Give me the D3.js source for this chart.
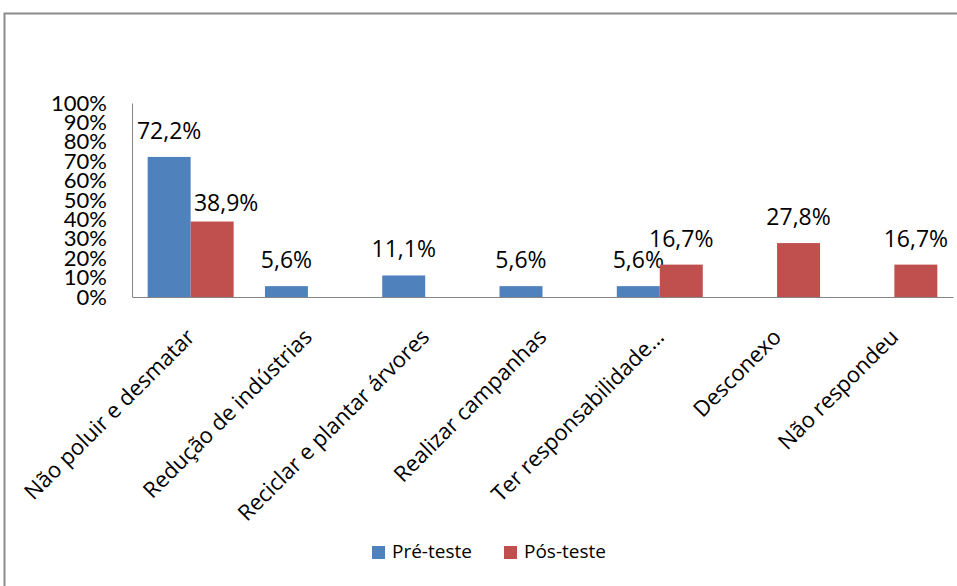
<!DOCTYPE html>
<html>
<head>
<meta charset="utf-8">
<script src="https://cdn.jsdelivr.net/npm/d3@7/dist/d3.min.js"></script>
<style>
  body { margin: 0; background: #fff; }
  text { font-family: "Open Sans", sans-serif; fill: #000; }
</style>
</head>
<body>
<div id="chart"></div>
<script>
var categories = ['Não poluir e desmatar', 'Redução de indústrias', 'Reciclar e plantar árvores',
  'Realizar campanhas', 'Ter responsabilidade…', 'Desconexo', 'Não respondeu'];
var series = ['Pré-teste', 'Pós-teste'];
var preTeste = [72.2, 5.6, 11.1, 5.6, 5.6, 0, 0];
var posTeste = [38.9, 0, 0, 0, 16.7, 27.8, 16.7];
var yTicks = [0, 10, 20, 30, 40, 50, 60, 70, 80, 90, 100];
var colors = ['#4F81BD', '#C0504D'];

var width = 957, height = 586;
var plotLeft = 132, plotRight = 953, plotTop = 103, plotBottom = 297;

var svg = d3.select('#chart').append('svg')
  .attr('width', width)
  .attr('height', height);

// outer frame
svg.append('rect')
  .attr('x', 4.5).attr('y', 13.5)
  .attr('width', 1000).attr('height', 700)
  .attr('fill', 'none')
  .attr('stroke', '#8c8c8c')
  .attr('stroke-width', 2);

var x = d3.scaleBand()
  .domain(categories)
  .range([plotLeft, plotRight])
  .paddingInner(0.267)
  .paddingOuter(0.1335);

var x1 = d3.scaleBand()
  .domain(series)
  .range([0, x.bandwidth()]);

var y = d3.scaleLinear()
  .domain([0, 100])
  .range([plotBottom, plotTop]);

// y axis labels
var yAxis = svg.append('g')
  .attr('transform', 'translate(' + plotLeft + ',0)')
  .call(d3.axisLeft(y).tickValues(yTicks).tickSize(0).tickPadding(25)
    .tickFormat(function (d) { return d + '%'; }));
yAxis.select('.domain').attr('stroke', '#868686');
yAxis.selectAll('text')
  .style('font-family', 'Lato, sans-serif')
  .attr('font-size', 22)
  .attr('fill', '#111');

// x axis line + labels
var xAxis = svg.append('g')
  .attr('transform', 'translate(0,' + plotBottom + ')')
  .call(d3.axisBottom(x).tickSize(0).tickFormat(''));
xAxis.select('.domain').attr('stroke', '#868686');

svg.append('g').selectAll('text')
  .data(categories)
  .enter().append('text')
  .attr('transform', function (d) {
    return 'translate(' + (x(d) + x.bandwidth() / 2) + ',333) rotate(-45)';
  })
  .attr('text-anchor', 'end')
  .attr('dy', '0.35em')
  .attr('font-size', 22)
  .text(function (d) { return d; });

var data = [preTeste, posTeste];

series.forEach(function (s, si) {
  var g = svg.append('g');
  var vals = data[si];
  g.selectAll('rect')
    .data(categories)
    .enter().append('rect')
    .attr('x', function (d) { return x(d) + x1(s); })
    .attr('y', function (d, i) { return y(vals[i]); })
    .attr('width', x1.bandwidth())
    .attr('height', function (d, i) { return plotBottom - y(vals[i]); })
    .attr('fill', colors[si]);

  g.selectAll('text')
    .data(categories.filter(function (d, i) { return vals[i] > 0; }))
    .enter().append('text')
    .attr('x', function (d) {
      var nudge = (si === 1 && d === categories[0]) ? 14 : 0;
      return x(d) + x1(s) + x1.bandwidth() / 2 + nudge;
    })
    .attr('y', function (d) {
      var v = vals[categories.indexOf(d)];
      var nudge = (si === 1 && d === categories[0]) ? 7 : 0;
      return y(v) - 18 + nudge;
    })
    .attr('text-anchor', 'middle')
    .attr('font-size', 23)
    .text(function (d) {
      return d3.format('.1f')(vals[categories.indexOf(d)]).replace('.', ',') + '%';
    });
});

// legend
var legend = svg.append('g');
var legendX = [372, 504];
series.forEach(function (s, i) {
  legend.append('rect')
    .attr('x', legendX[i]).attr('y', 546)
    .attr('width', 13).attr('height', 13)
    .attr('fill', colors[i]);
  legend.append('text')
    .attr('x', legendX[i] + 20).attr('y', 558)
    .attr('font-size', 19)
    .text(s);
});
</script>
</body>
</html>
